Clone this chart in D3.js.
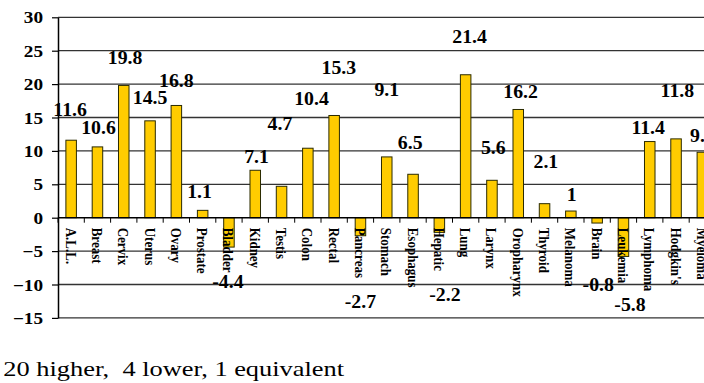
<!DOCTYPE html>
<html><head><meta charset="utf-8">
<script src="https://cdn.jsdelivr.net/npm/d3@7/dist/d3.min.js"></script>
<style>body{margin:0;background:#fff}svg{display:block}</style>
</head><body>
<script>
const categories = ["A.L.L.","Breast","Cervix","Uterus","Ovary","Prostate","Bladder","Kidney","Testis","Colon","Rectal","Pancreas","Stomach","Esophagus","Hepatic","Lung","Larynx","Oropharynx","Thyroid","Melanoma","Brain","Leukemia","Lymphoma","Hodgkin's","Myeloma"];
const values = [11.6,10.6,19.8,14.5,16.8,1.1,-4.4,7.1,4.7,10.4,15.3,-2.7,9.1,6.5,-2.2,21.4,5.6,16.2,2.1,1,-0.8,-5.8,11.4,11.8,9.8];
// where each value label sits, in chart units (label baseline)
const labelLevel = [15.2,12.6,23.0,17.0,19.5,2.9,-10.5,8.2,13.2,16.8,21.5,-13.5,18.2,10.3,-12.4,26.1,9.5,17.9,7.4,2.5,-10.9,-14.0,12.5,18.1,11.4];
// horizontal nudge of each value label, as a fraction of a category step
const labelNudge = [-0.04,0.04,0.05,0,0,-0.12,-0.04,0.05,-0.06,0.14,0.18,0,0,-0.11,0.21,0.15,0.05,0.09,0.05,0.03,0.04,0.25,-0.06,0.05,0];
const yTicks = [-15,-10,-5,0,5,10,15,20,25,30];
const note = "20 higher,  4 lower, 1 equivalent";

const W = 704, H = 383;
const FONT = "'Liberation Serif','Times New Roman',Times,serif";
const svg = d3.select("body").append("svg").attr("width", W).attr("height", H)
  .style("font-family", FONT);

const left = 58, step = 26.3;
const x = d3.scaleBand().domain(categories).range([left, left + categories.length * step])
  .paddingInner(0.6).paddingOuter(0.3);
const y = d3.scaleLinear().domain([-15, 30]).range([317.9, 17.3]);

// gridlines
svg.append("g").selectAll("line").data(yTicks.filter(d => d !== 0)).join("line")
  .attr("x1", left).attr("x2", W)
  .attr("y1", d => y(d)).attr("y2", d => y(d))
  .attr("stroke", "#333").attr("stroke-width", 1.3);

// y axis
const ya = svg.append("g").attr("transform", `translate(${left},0)`)
  .call(d3.axisLeft(y).tickValues(yTicks).tickSize(6).tickSizeOuter(0).tickFormat(d3.format("d")));
ya.select(".domain").attr("stroke", "#000").attr("stroke-width", 1.5);
ya.selectAll(".tick line").attr("stroke", "#000").attr("stroke-width", 1.2);
ya.selectAll(".tick text")
  .attr("x", null).attr("dy", "0.35em")
  .attr("transform", "translate(-15,0) scale(1.2,1)")
  .style("font-family", FONT).style("font-weight", "bold").style("font-size", "16px")
  .attr("fill", "#000");

// bars
svg.append("g").selectAll("rect").data(values).join("rect")
  .attr("x", (d, i) => x(categories[i]))
  .attr("width", x.bandwidth())
  .attr("y", d => y(Math.max(0, d)))
  .attr("height", d => Math.abs(y(d) - y(0)))
  .attr("fill", "#FFCC00").attr("stroke", "#2b2b00").attr("stroke-width", 1);

// x axis line at zero
svg.append("line").attr("x1", left).attr("x2", W)
  .attr("y1", y(0)).attr("y2", y(0)).attr("stroke", "#000").attr("stroke-width", 1.5);

// x ticks at category boundaries
const bounds = categories.map(c => x(c) - x.step() * x.paddingInner() / 2);
svg.append("g").selectAll("line").data(bounds).join("line")
  .attr("x1", d => d).attr("x2", d => d)
  .attr("y1", y(0)).attr("y2", y(0) + 5)
  .attr("stroke", "#000").attr("stroke-width", 1);

// category labels (rotated)
svg.append("g").selectAll("text").data(categories).join("text")
  .attr("transform", c => `translate(${x(c) + x.bandwidth() / 2},${y(0) + 10}) rotate(90) scale(1,1.2)`)
  .attr("dy", "0.35em")
  .style("font-weight", "bold").style("font-size", "13px")
  .attr("fill", "#000")
  .text(c => c);

// value labels
svg.append("g").selectAll("text").data(values).join("text")
  .attr("transform", (d, i) => `translate(${x(categories[i]) + x.bandwidth() / 2 + labelNudge[i] * x.step()},${y(labelLevel[i])}) scale(1.1,1)`)
  .attr("text-anchor", "middle")
  .style("font-weight", "bold").style("font-size", "18px")
  .attr("fill", "#000")
  .text(d => d);

// note
svg.append("text")
  .attr("transform", "translate(3.3,375.7) scale(1.2,1)")
  .style("font-size", "22px").style("white-space", "pre")
  .attr("xml:space", "preserve")
  .attr("fill", "#000")
  .text(note);
</script>
</body></html>
